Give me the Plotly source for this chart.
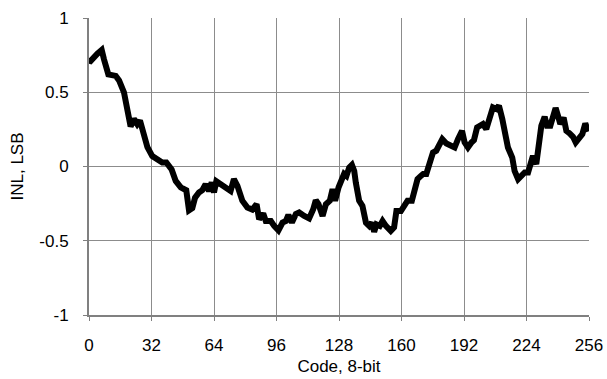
import plotly.graph_objects as go

codes = [0, 0.8, 4.3, 6.5, 7.7, 9.9, 13.7, 15.4, 17.9, 19.6, 21.3, 23, 24.7, 26.1, 28.2, 29.9,
         32.4, 35, 37.5, 39.6, 41, 42.3, 44.4, 47, 49.8, 51.2, 52.9, 54.3, 56.3, 58, 59.7, 61.4,
         62.8, 64, 65.2, 67.4, 70, 72.5, 74.2, 76, 78.5, 81.1, 83.6, 85.8, 87.1, 89.2, 90.5, 93.1,
         94.8, 97, 99.1, 100.8, 102.1, 103.9, 105.9, 107.6, 110.2, 112.7, 114.8, 116.1, 117.5,
         119.6, 121.3, 123.3, 124.7, 126, 127.8, 129, 130.6, 131.8, 133.2, 134.6, 135.8, 136.6,
         138.3, 140, 141.8, 143.5, 144.8, 146, 147.2, 148.9, 150.3, 152, 154.5, 156.2, 157.4,
         159.7, 161.4, 163.1, 165.3, 166.5, 168.2, 169.9, 171.1, 172.7, 174.4, 176.1, 177.8, 179,
         180.9, 183, 185.5, 187.2, 188.9, 191, 192.3, 194, 195.8, 197.1, 198.7, 200.4, 201.7,
         203.4, 205.1, 206.8, 208.6, 209.9, 211.6, 213.3, 214.5, 216.7, 217.9, 219.7, 221.4,
         223.1, 224.8, 226, 227.3, 229, 230.4, 231.6, 233.3, 234.5, 236.2, 237.6, 238.9, 240.1,
         241.3, 243, 244.4, 246.1, 247.8, 249.2, 250.9, 252.6, 254.1, 255.7]

inl = [0.713, 0.71, 0.76, 0.785, 0.72, 0.62, 0.61, 0.58, 0.5, 0.40, 0.27, 0.32, 0.285, 0.31, 0.21, 0.13,
       0.07, 0.05, 0.027, 0.027, 0.005, -0.02, -0.097, -0.14, -0.16, -0.295, -0.28, -0.21, -0.175, -0.16, -0.12, -0.165,
       -0.108, -0.175, -0.10, -0.12, -0.14, -0.165, -0.085, -0.13, -0.23, -0.277, -0.29, -0.254, -0.355, -0.317, -0.367, -0.367,
       -0.40, -0.43, -0.378, -0.367, -0.326, -0.378, -0.32, -0.31, -0.333, -0.35, -0.288, -0.227, -0.254,
       -0.333, -0.254, -0.23, -0.153, -0.23, -0.14, -0.108, -0.05, -0.063, -0.007, 0.011, -0.03, -0.108,
       -0.23, -0.265, -0.378, -0.40, -0.378, -0.44, -0.39, -0.40, -0.367, -0.40, -0.434, -0.41, -0.30,
       -0.30, -0.254, -0.23, -0.23, -0.175, -0.085, -0.063, -0.05, -0.05, 0.027, 0.094, 0.106, 0.14,
       0.184, 0.155, 0.14, 0.128, 0.184, 0.24, 0.162, 0.128, 0.162, 0.178, 0.263, 0.274, 0.286,
       0.252, 0.33, 0.398, 0.387, 0.41, 0.32, 0.218, 0.128, 0.06, -0.03, -0.085, -0.063,
       -0.04, -0.04, 0.027, 0.072, 0.016, 0.196, 0.274, 0.335, 0.274, 0.274, 0.353, 0.394, 0.342,
       0.286, 0.33, 0.24, 0.223, 0.20, 0.162, 0.196, 0.218, 0.29, 0.236]

x_ticks = [0, 32, 64, 96, 128, 160, 192, 224, 256]
y_ticks = [-1, -0.5, 0, 0.5, 1]
y_tick_labels = ["-1", "-0.5", "0", "0.5", "1"]

fig = go.Figure()
fig.add_trace(go.Scatter(x=codes, y=inl, mode="lines",
                         line=dict(color="black", width=6), showlegend=False))

font = dict(family="Liberation Sans, Arial, sans-serif", size=17, color="black")
fig.update_layout(
    width=607, height=379,
    margin=dict(l=89, r=18, t=18, b=64),
    paper_bgcolor="white", plot_bgcolor="white",
    font=font,
)
fig.update_xaxes(
    range=[0, 256], tickvals=x_ticks, ticktext=[str(v) for v in x_ticks],
    showgrid=True, gridcolor="#8c8c8c", gridwidth=1,
    showline=True, linecolor="#808080", linewidth=2, mirror=False,
    ticks="outside", ticklen=4, tickcolor="#808080", tickwidth=1,
    ticklabelstandoff=10,
    title=dict(text="Code, 8-bit", standoff=6, font=dict(size=17)), zeroline=False,
    automargin=False,
)
fig.update_yaxes(
    range=[-1, 1], tickvals=y_ticks, ticktext=y_tick_labels,
    showgrid=True, gridcolor="#8c8c8c", gridwidth=1,
    showline=True, linecolor="#808080", linewidth=2,
    ticks="outside", ticklen=4, tickcolor="#808080", tickwidth=1,
    ticklabelstandoff=11,
    title=dict(text="INL, LSB", standoff=11, font=dict(size=17)), zeroline=False,
    automargin=False,
)
fig.write_html("out.html", config={"displayModeBar": False},
               post_script="document.body.style.margin='0';")
